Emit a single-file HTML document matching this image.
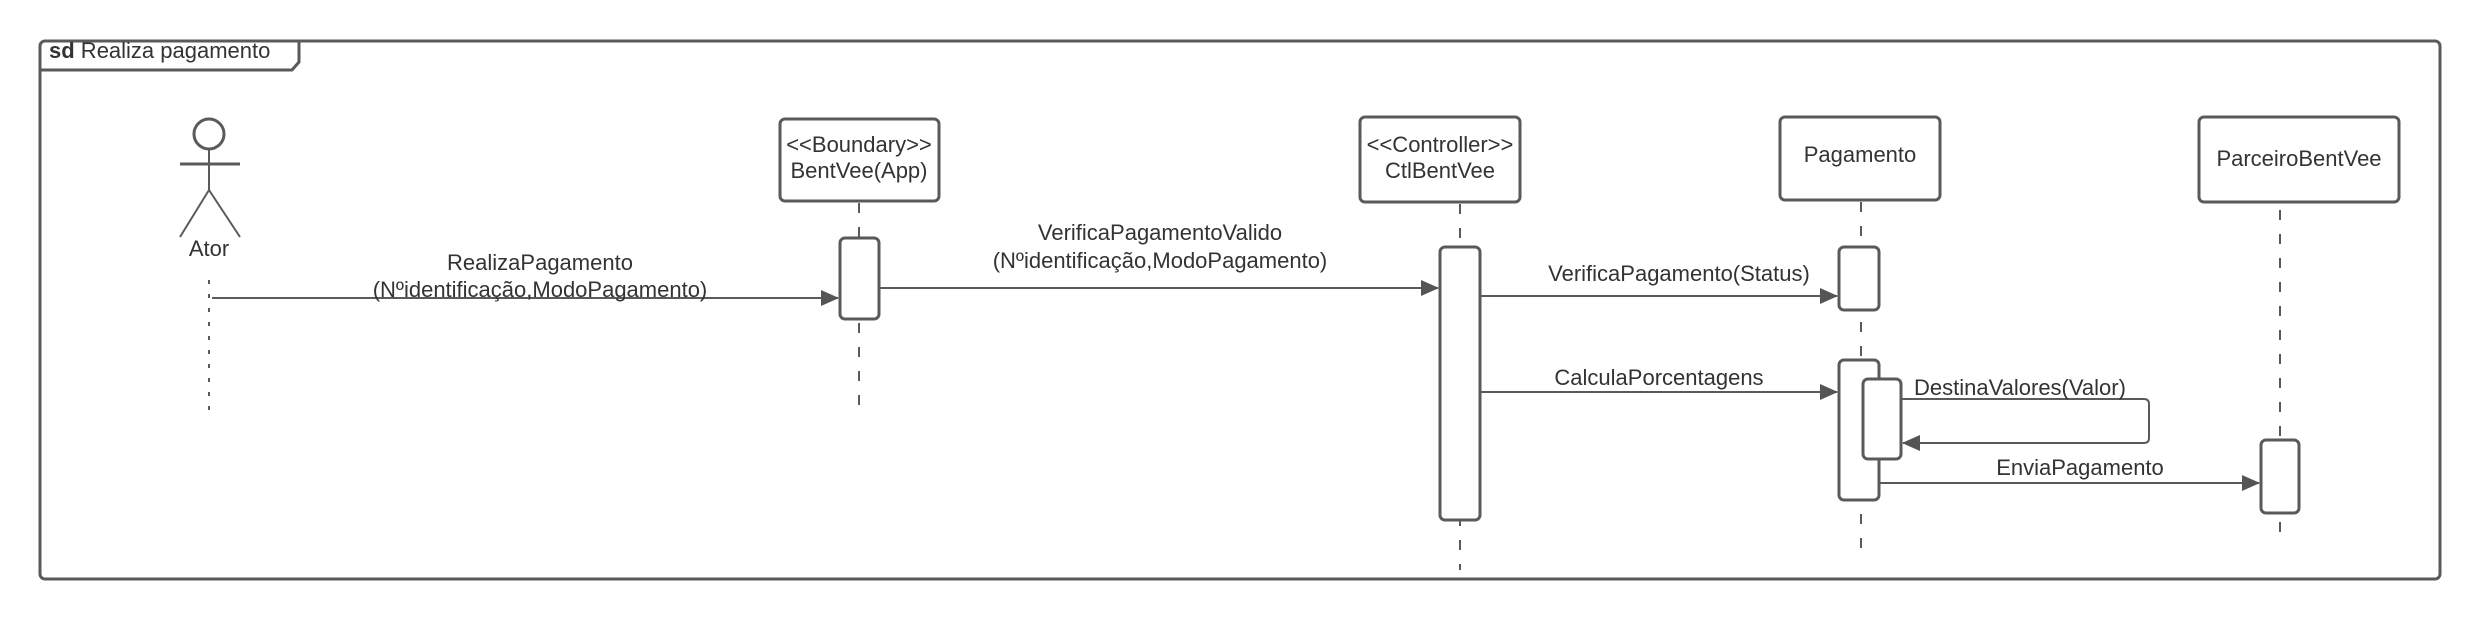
<!DOCTYPE html>
<html><head><meta charset="utf-8"><style>
html,body{margin:0;padding:0;background:#fff;}
svg{display:block;}
text{font-family:"Liberation Sans",sans-serif;fill:#333;font-size:22px;}
</style></head><body>
<svg width="2480" height="620" viewBox="0 0 2480 620" xmlns="http://www.w3.org/2000/svg">
<defs>
<marker id="b" markerWidth="18" markerHeight="16" refX="17" refY="8" orient="auto" markerUnits="userSpaceOnUse"><path d="M0,0 L18,8 L0,16 z" fill="#555"/></marker>
</defs>
<g stroke="#5a5a5a" stroke-width="3" fill="none">
<rect x="40" y="41" width="2400" height="538" rx="5" fill="#fff"/>
<path d="M40,70 L292,70 L299,62 L299,41"/>
<circle cx="209" cy="134" r="15" fill="#fff"/>
<line x1="180" y1="164" x2="240" y2="164"/>
<line x1="209" y1="149" x2="209" y2="190" stroke-width="2"/>
<line x1="209" y1="190" x2="180" y2="237" stroke-width="2"/>
<line x1="209" y1="190" x2="240" y2="237" stroke-width="2"/>
<line x1="209" y1="280" x2="209" y2="420" stroke-width="2" stroke-dasharray="4,10"/>
<line x1="859" y1="203" x2="859" y2="412" stroke-width="2" stroke-dasharray="10,14"/>
<line x1="1460" y1="204" x2="1460" y2="570" stroke-width="2" stroke-dasharray="10,14"/>
<line x1="1861" y1="202" x2="1861" y2="550" stroke-width="2" stroke-dasharray="10,14"/>
<line x1="2280" y1="210" x2="2280" y2="540" stroke-width="2" stroke-dasharray="10,14"/>
<rect x="780" y="119" width="159" height="82" rx="5" fill="#fff"/>
<rect x="1360" y="117" width="160" height="85" rx="5" fill="#fff"/>
<rect x="1780" y="117" width="160" height="83" rx="5" fill="#fff"/>
<rect x="2199" y="117" width="200" height="85" rx="5" fill="#fff"/>
<rect x="840" y="238" width="39" height="81" rx="5" fill="#fff"/>
<rect x="1440" y="247" width="40" height="273" rx="5" fill="#fff"/>
<rect x="1839" y="247" width="40" height="63" rx="5" fill="#fff"/>
<rect x="1839" y="360" width="40" height="140" rx="5" fill="#fff"/>
<rect x="1863" y="379" width="38" height="80" rx="5" fill="#fff"/>
<rect x="2261" y="440" width="38" height="73" rx="5" fill="#fff"/>
<line x1="212" y1="298" x2="838" y2="298" stroke-width="2" marker-end="url(#b)"/>
<line x1="879" y1="288" x2="1438" y2="288" stroke-width="2" marker-end="url(#b)"/>
<line x1="1480" y1="296" x2="1837" y2="296" stroke-width="2" marker-end="url(#b)"/>
<line x1="1480" y1="392" x2="1837" y2="392" stroke-width="2" marker-end="url(#b)"/>
<path d="M1901,399 L2144,399 Q2149,399 2149,404 L2149,438 Q2149,443 2144,443 L1903,443" stroke-width="2" marker-end="url(#b)"/>
<line x1="1879" y1="483" x2="2259" y2="483" stroke-width="2" marker-end="url(#b)"/>
</g>
<text x="49" y="58" font-size="15"><tspan font-weight="bold">sd</tspan> Realiza pagamento</text>
<text x="209" y="256" text-anchor="middle">Ator</text>
<text x="859" y="152" text-anchor="middle">&lt;&lt;Boundary&gt;&gt;</text>
<text x="859" y="178" text-anchor="middle">BentVee(App)</text>
<text x="1440" y="152" text-anchor="middle">&lt;&lt;Controller&gt;&gt;</text>
<text x="1440" y="178" text-anchor="middle">CtlBentVee</text>
<text x="1860" y="162" text-anchor="middle">Pagamento</text>
<text x="2299" y="166" text-anchor="middle">ParceiroBentVee</text>
<text x="540" y="270" text-anchor="middle">RealizaPagamento</text>
<text x="540" y="297" text-anchor="middle">(Nºidentificação,ModoPagamento)</text>
<text x="1160" y="240" text-anchor="middle">VerificaPagamentoValido</text>
<text x="1160" y="268" text-anchor="middle">(Nºidentificação,ModoPagamento)</text>
<text x="1679" y="281" text-anchor="middle">VerificaPagamento(Status)</text>
<text x="1659" y="385" text-anchor="middle">CalculaPorcentagens</text>
<text x="1914" y="395">DestinaValores(Valor)</text>
<text x="2080" y="475" text-anchor="middle">EnviaPagamento</text>
</svg>
</body></html>
